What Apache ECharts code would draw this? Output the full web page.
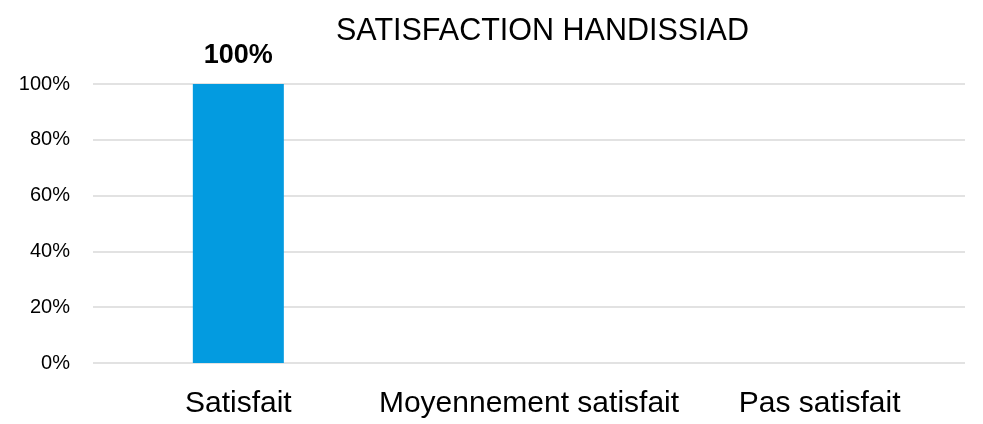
<!DOCTYPE html>
<html lang="fr">

<head>
  <meta charset="UTF-8">
  <title>Satisfaction HANDISSIAD</title>
  <script src="https://cdn.jsdelivr.net/npm/echarts@6/dist/echarts.min.js"></script>
  <style>
    html, body {
      margin: 0;
      padding: 0;
      background: #fff;
    }
  </style>
</head>

<body>
<div id="chart" style="width: 983px; height: 424px;"></div>
</body>

<script>
  const categories = ['Satisfait', 'Moyennement satisfait', 'Pas satisfait'];
  const values = [100, null, null];
  const yTicks = [0, 20, 40, 60, 80, 100];

  const font = '"Liberation Sans", "Noto Sans", sans-serif';

  echarts.init(document.getElementById('chart')).setOption({
    animation: false,
    title: {
      text: 'SATISFACTION HANDISSIAD',
      left: 331,
      top: 11,
      textStyle: {
        fontFamily: font,
        fontSize: 30.5,
        fontWeight: 'normal',
        color: '#000'
      }
    },
    grid: {
      left: 93,
      right: 18,
      top: 84,
      bottom: 61
    },
    xAxis: {
      type: 'category',
      data: categories,
      axisLine: {show: false},
      axisTick: {show: false},
      axisLabel: {
        interval: 0,
        hideOverlap: false,
        fontFamily: font,
        fontSize: 30,
        color: '#000',
        margin: 26
      }
    },
    yAxis: {
      type: 'value',
      min: yTicks[0],
      max: yTicks[yTicks.length - 1],
      interval: 20,
      axisLine: {show: false},
      axisTick: {show: false},
      splitLine: {lineStyle: {color: '#d9d9d9', width: 1.5}},
      axisLabel: {
        formatter: '{value}%',
        fontFamily: font,
        fontSize: 20,
        color: '#000',
        margin: 23
      }
    },
    series: [{
      type: 'bar',
      data: values,
      barWidth: 91,
      itemStyle: {color: '#039be0'},
      label: {
        show: true,
        position: 'top',
        distance: 15,
        formatter: '{c}%',
        fontFamily: font,
        fontSize: 27,
        fontWeight: 'bold',
        color: '#000'
      }
    }]
  });
</script>

</html>
